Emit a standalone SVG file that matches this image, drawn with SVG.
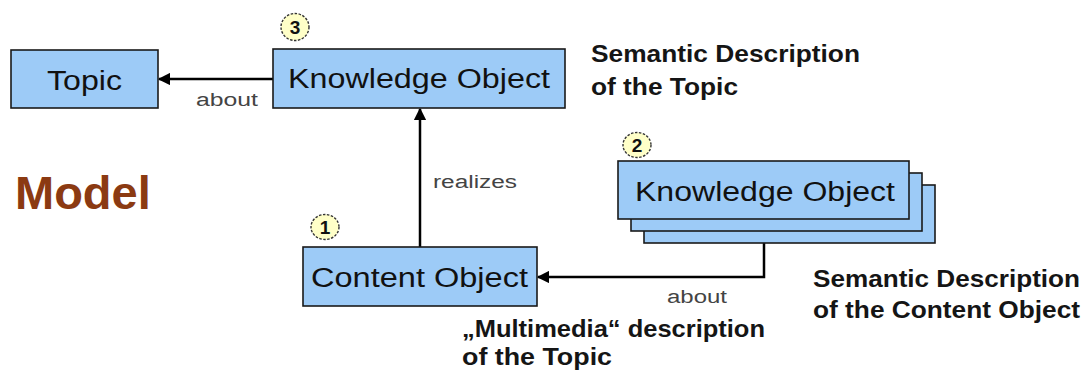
<svg xmlns="http://www.w3.org/2000/svg" width="1085" height="372" viewBox="0 0 1085 372">
<defs>
<style>
.box{fill:#9dcbf7;stroke:#1a1a1a;stroke-width:1.6}
.lbl{font-family:"Liberation Sans",Arial,sans-serif;font-size:27px;fill:#111}
.edge{fill:none;stroke:#000;stroke-width:2.5}
.elbl{font-family:"Liberation Sans",Arial,sans-serif;font-size:18px;fill:#444}
.note{font-family:"Liberation Sans",Arial,sans-serif;font-size:24px;font-weight:bold;fill:#151515}
.badge{fill:#ffffc8;stroke:#333;stroke-width:1.4;stroke-dasharray:2.5 1.5}
.btxt{font-family:"Liberation Sans",Arial,sans-serif;font-size:19px;font-weight:bold;fill:#111;text-anchor:middle}
</style>
<marker id="ah" viewBox="0 0 10 10" refX="9" refY="5" markerWidth="5" markerHeight="5" orient="auto-start-reverse" markerUnits="strokeWidth">
<path d="M0,0 L10,5 L0,10 z" fill="#000"/>
</marker>
</defs>
<rect width="1085" height="372" fill="#fff"/>
<text x="15" y="209" font-family="Liberation Sans,Arial,sans-serif" font-size="47" font-weight="bold" fill="#8b3a12">Model</text>
<g id="connectors">
<line class="edge" x1="273" y1="79" x2="159" y2="79" marker-end="url(#ah)"/>
<text class="elbl" x="196" y="106" textLength="62" lengthAdjust="spacingAndGlyphs">about</text>
<line class="edge" x1="420" y1="247" x2="420" y2="109" marker-end="url(#ah)"/>
<text class="elbl" x="433" y="188" textLength="84" lengthAdjust="spacingAndGlyphs">realizes</text>
<polyline class="edge" points="764,219 764,277 538,277" marker-end="url(#ah)"/>
<text class="elbl" x="667" y="303" textLength="60" lengthAdjust="spacingAndGlyphs">about</text>
</g>
<g id="topic">
<rect class="box" x="11" y="50" width="147" height="58"/>
<text class="lbl" x="47" y="90" textLength="75" lengthAdjust="spacingAndGlyphs">Topic</text>
</g>
<g id="ko-topic">
<rect class="box" x="273" y="49" width="292" height="59"/>
<text class="lbl" x="288" y="88" textLength="262" lengthAdjust="spacingAndGlyphs">Knowledge Object</text>
<ellipse class="badge" cx="295" cy="27" rx="14" ry="13.5"/>
<text class="btxt" x="295" y="34">3</text>
</g>
<g id="ko-content">
<rect class="box" x="644" y="185" width="291" height="58"/>
<rect class="box" x="631" y="173" width="291" height="58"/>
<rect class="box" x="618" y="161" width="291" height="58"/>
<text class="lbl" x="635" y="201" textLength="260" lengthAdjust="spacingAndGlyphs">Knowledge Object</text>
<ellipse class="badge" cx="637" cy="145" rx="14" ry="12.5"/>
<text class="btxt" x="637" y="152">2</text>
</g>
<g id="content-object">
<rect class="box" x="303" y="247" width="234" height="59"/>
<text class="lbl" x="311" y="287" textLength="217" lengthAdjust="spacingAndGlyphs">Content Object</text>
<ellipse class="badge" cx="325" cy="227" rx="14" ry="12.5"/>
<text class="btxt" x="325" y="234">1</text>
</g>
<g id="notes">
<text class="note" x="591" y="62" textLength="269" lengthAdjust="spacingAndGlyphs">Semantic Description</text>
<text class="note" x="591" y="95" textLength="147" lengthAdjust="spacingAndGlyphs">of the Topic</text>
<text class="note" x="813" y="287" textLength="267" lengthAdjust="spacingAndGlyphs">Semantic Description</text>
<text class="note" x="813" y="318" textLength="267" lengthAdjust="spacingAndGlyphs">of the Content Object</text>
<text class="note" x="462" y="337" textLength="303" lengthAdjust="spacingAndGlyphs">„Multimedia“ description</text>
<text class="note" x="462" y="365" textLength="150" lengthAdjust="spacingAndGlyphs">of the Topic</text>
</g>
</svg>
